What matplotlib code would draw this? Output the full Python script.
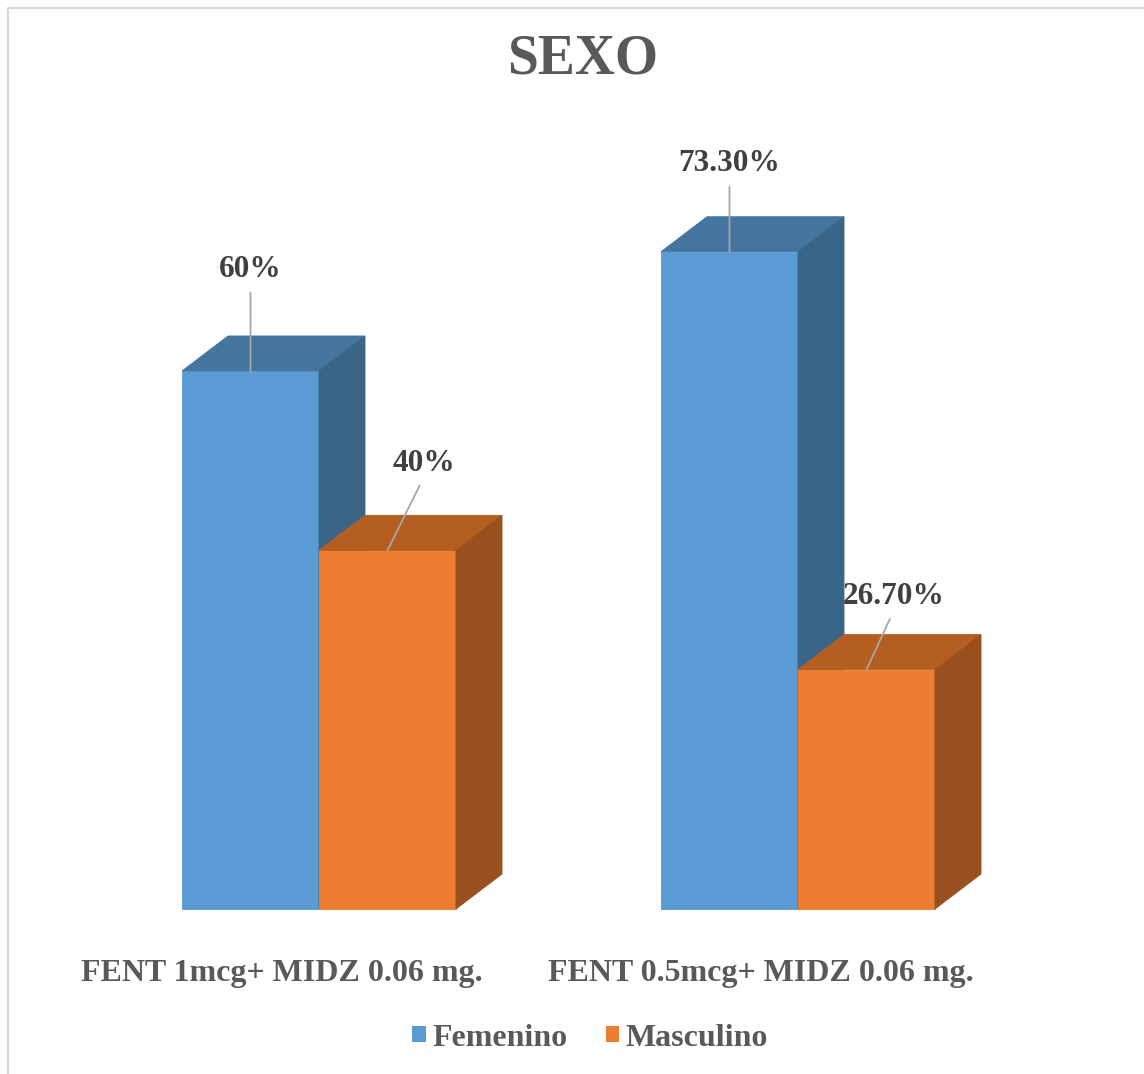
import matplotlib
matplotlib.use("Agg")
import matplotlib.pyplot as plt
from matplotlib.lines import Line2D
from matplotlib.patches import Patch

# Data
categories = ["FENT 1mcg+ MIDZ 0.06 mg.", "FENT 0.5mcg+ MIDZ 0.06 mg."]
series_names = ["Femenino", "Masculino"]
femenino = [60.0, 73.3]
masculino = [40.0, 26.7]
value_labels = [["60%", "73.30%"], ["40%", "26.70%"]]

# Styling
FONT = "Liberation Serif"
face_colors = {
    "Femenino": ("#5B9BD5", "#44759F", "#3A6587"),   # front, top, side
    "Masculino": ("#ED7D31", "#B55E22", "#9A4F1E"),
}
label_color = "#404040"
axis_text_color = "#595959"
leader_color = "#A6A6A6"

W, H = 1144, 1074
fig = plt.figure(figsize=(W / 100, H / 100), dpi=100)
ax = fig.add_axes([0, 0, 1, 1])
ax.set_axis_off()

# Scales: one category unit spans 479 px, one percent spans ~8.967 px
px_per_cat = 479.0
px_per_pct = 8.967
x0_px = 319.0          # centre of first group in pixels
base_px = 909.0        # baseline (pixels from top)
ax.set_xlim(-x0_px / px_per_cat, (W - x0_px) / px_per_cat)
ax.set_ylim(-(H - base_px) / px_per_pct, base_px / px_per_pct)

bar_w = 137.0 / px_per_cat
depth_x = 46.0 / px_per_cat
depth_y = 35.0 / px_per_pct


def draw_box(x_left, height, colors):
    front, top, side = colors
    xr = x_left + bar_w
    ax.fill([x_left, xr, xr, x_left], [0, 0, height, height],
            color=front, lw=0.6, ec=front, zorder=2)
    ax.fill([x_left, x_left + depth_x, xr + depth_x, xr],
            [height, height + depth_y, height + depth_y, height],
            color=top, lw=0.6, ec=top, zorder=2)
    ax.fill([xr, xr + depth_x, xr + depth_x, xr],
            [0, depth_y, height + depth_y, height],
            color=side, lw=0.6, ec=side, zorder=2)


# label offsets (pixels) from the front-top centre of each bar
label_offsets = [[(0, 101), (0, 88)], [(36, 87), (27, 73)]]

for i, cat in enumerate(categories):
    for j, (name, vals) in enumerate(zip(series_names, [femenino, masculino])):
        x_left = i - bar_w + j * bar_w
        draw_box(x_left, vals[i], face_colors[name])
    for j, (name, vals) in enumerate(zip(series_names, [femenino, masculino])):
        x_left = i - bar_w + j * bar_w
        anchor = (x_left + bar_w / 2, vals[i])
        dx, dy = label_offsets[j][i]
        ax.annotate(value_labels[j][i], xy=anchor, xytext=(dx, dy),
                    textcoords="offset pixels", ha="center", va="center",
                    fontsize=22.5, fontweight="bold", family=FONT,
                    color=label_color, zorder=4,
                    arrowprops=dict(arrowstyle="-", color=leader_color,
                                    lw=1.3, shrinkA=4, shrinkB=0,
                                    relpos=(0.5, 0.0)))
    # Category labels under each group
    ax.annotate(cat, xy=(i, 0), xytext=(-37, -64), textcoords="offset pixels",
                ha="center", va="center", fontsize=23, fontweight="bold",
                family=FONT, color=axis_text_color)

# Title
fig.text(583 / W, 1 - 60 / H, "SEXO", ha="center", va="center", fontsize=40,
         fontweight="bold", family=FONT, color=axis_text_color)

# Legend
handles = [Patch(facecolor=face_colors[n][0], edgecolor="none") for n in series_names]
leg = fig.legend(handles, series_names, loc="center", bbox_to_anchor=(590 / W, 1 - 1038 / H),
                 ncol=2, frameon=False, handlelength=0.42, handleheight=0.42,
                 handletextpad=0.2, columnspacing=1.2,
                 prop={"family": FONT, "weight": "bold", "size": 23})
for t in leg.get_texts():
    t.set_color(axis_text_color)

# Chart area border (top and left edges within the canvas)
fig.add_artist(Line2D([8 / W, 8 / W, 1], [0, 1 - 7.5 / H, 1 - 7.5 / H],
                      transform=fig.transFigure, color="#D9D9D9", lw=1.5))

fig.savefig("out.png", dpi=100, facecolor="white")
